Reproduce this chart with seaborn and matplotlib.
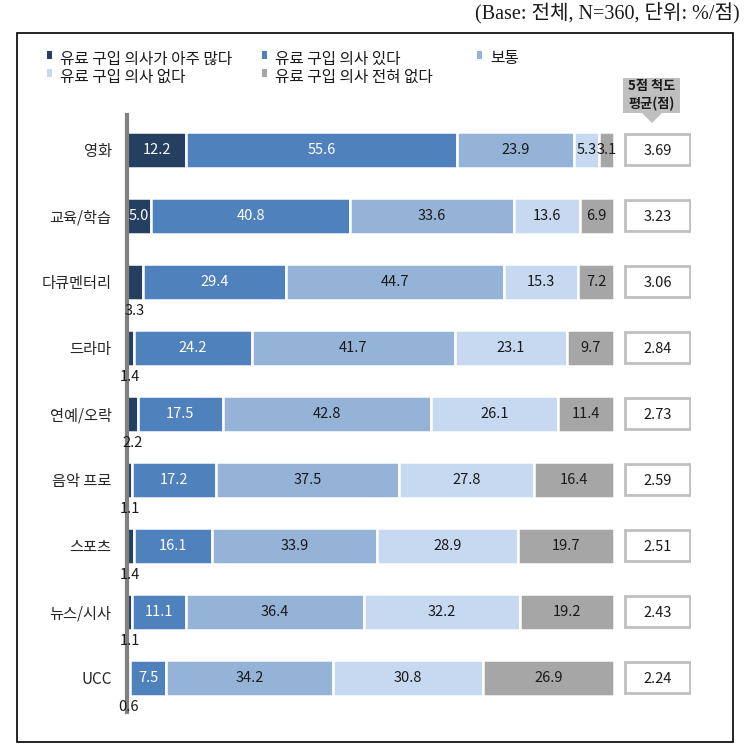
import matplotlib
matplotlib.use("Agg")
import matplotlib.pyplot as plt
from matplotlib.patches import Rectangle, Polygon
import numpy as np
import pandas as pd
import seaborn as sns

categories = ["영화", "교육/학습", "다큐멘터리", "드라마", "연예/오락", "음악 프로", "스포츠", "뉴스/시사", "UCC"]
series = ["유료 구입 의사가 아주 많다", "유료 구입 의사 있다", "보통", "유료 구입 의사 없다", "유료 구입 의사 전혀 없다"]
very_many = [12.2, 5.0, 3.3, 1.4, 2.2, 1.1, 1.4, 1.1, 0.6]
yes = [55.6, 40.8, 29.4, 24.2, 17.5, 17.2, 16.1, 11.1, 7.5]
neutral = [23.9, 33.6, 44.7, 41.7, 42.8, 37.5, 33.9, 36.4, 34.2]
no = [5.3, 13.6, 15.3, 23.1, 26.1, 27.8, 28.9, 32.2, 30.8]
never = [3.1, 6.9, 7.2, 9.7, 11.4, 16.4, 19.7, 19.2, 26.9]
means = [3.69, 3.23, 3.06, 2.84, 2.73, 2.59, 2.51, 2.43, 2.24]

colors = ["#243F60", "#4F81BD", "#95B3D7", "#C6D9F1", "#A6A6A6"]
text_colors = ["white", "white", "#1a1a1a", "#1a1a1a", "#1a1a1a"]

sns.set_style("white")
plt.rcParams['font.family'] = ['Noto Sans CJK KR', 'DejaVu Sans']

W, H = 744, 753
fig = plt.figure(figsize=(W / 100, H / 100), dpi=100)

def fx(px):
    return px / W

def fy(py):
    return 1 - py / H

# main axes: x 127..614, y 115..712
ax = fig.add_axes([fx(127), fy(712), fx(614) - fx(127), fy(115) - fy(712)])

vals = [very_many, yes, neutral, no, never]
rows = []
for s, v in zip(series, vals):
    for c, x in zip(categories, v):
        rows.append({"category": c, "series": s, "value": x})
df = pd.DataFrame(rows)
df["series"] = pd.Categorical(df["series"], categories=series, ordered=True)
df["category"] = pd.Categorical(df["category"], categories=categories, ordered=True)
df = df.sort_values(["category", "series"])
df["left"] = df.groupby("category", observed=True)["value"].cumsum() - df["value"]

bar_h = 0.55
for i, s in enumerate(series):
    sub = df[df["series"] == s].sort_values("category")
    sns.barplot(data=sub, y="category", x="value", orient="h", order=categories,
                color=colors[i], saturation=1, width=bar_h, left=sub["left"].values,
                edgecolor="white", linewidth=1.8, ax=ax)

ax.set_xlim(0, 100)
ax.set_ylim(8.52, -0.53)
ax.set_xlabel("")
ax.set_ylabel("")
ax.set_xticks([])
ax.tick_params(axis="y", length=0, pad=11, labelsize=11)
for sp in ["top", "right", "bottom"]:
    ax.spines[sp].set_visible(False)
ax.spines["left"].set_color("#808080")
ax.spines["left"].set_linewidth(3)
ax.spines["left"].set_zorder(5)

# labels
for _, r in df.iterrows():
    i = series.index(r["series"])
    yi = categories.index(r["category"])
    xc = r["left"] + r["value"] / 2
    lab = f"{r['value']:.1f}"
    if i == 0 and r["value"] < 4:
        ax.text(xc, yi + 0.44, lab, ha="center", va="center", fontsize=10.5,
                color="#1a1a1a", zorder=6)
    else:
        ax.text(xc, yi, lab, ha="center", va="center", fontsize=10.5,
                color=text_colors[i])

# mean boxes axis aligned with main axes rows
ax2 = fig.add_axes([fx(624), fy(712), fx(691) - fx(624), fy(115) - fy(712)])
ax2.set_xlim(0, 1)
ax2.set_ylim(8.52, -0.53)
ax2.axis("off")
for yi, m in enumerate(means):
    ax2.add_patch(Rectangle((0.02, yi - 0.235), 0.96, 0.47, facecolor="white",
                            edgecolor="#BFBFBF", linewidth=2))
    ax2.text(0.5, yi + 0.02, f"{m:.2f}", ha="center", va="center", fontsize=10.5,
             color="#1a1a1a")

# "5점 척도 평균(점)" label with arrow
fig.patches.append(Rectangle((fx(623), fy(113)), fx(680) - fx(623), fy(78) - fy(113),
                             transform=fig.transFigure, facecolor="#BFBFBF",
                             edgecolor="none"))
fig.patches.append(Polygon([(fx(642), fy(113)), (fx(662), fy(113)), (fx(652), fy(123))],
                           closed=True, transform=fig.transFigure,
                           facecolor="#BFBFBF", edgecolor="none"))
fig.text(fx(652), fy(86), "5점 척도", ha="center", va="center", fontsize=9.5,
         fontweight="bold", color="#1a1a1a")
fig.text(fx(652), fy(104), "평균(점)", ha="center", va="center", fontsize=9.5,
         fontweight="bold", color="#1a1a1a")

# legend (manual positions to match layout)
leg_pos = [(50, 58), (265, 58), (480, 58), (50, 76), (265, 76)]
for i, (px, py) in enumerate(leg_pos):
    fig.patches.append(Rectangle((fx(px - 3), fy(py + 1)), fx(5), fy(0) - fy(8),
                                 transform=fig.transFigure, facecolor=colors[i],
                                 edgecolor="none"))
    fig.text(fx(px + 10), fy(py + 1), series[i], ha="left", va="center", fontsize=11.3,
             color="#1a1a1a")

# outer frame
fig.patches.append(Rectangle((fx(17), fy(742)), fx(733) - fx(17), fy(33) - fy(742),
                             transform=fig.transFigure, facecolor="none",
                             edgecolor="black", linewidth=1.2))

# header
fig.text(fx(740), fy(13), "(Base: 전체, N=360, 단위: %/점)", ha="right", va="center",
         fontsize=14.5, family=["Liberation Serif", "Noto Sans CJK KR"], color="#1a1a1a")

fig.savefig("out.png", dpi=100)
